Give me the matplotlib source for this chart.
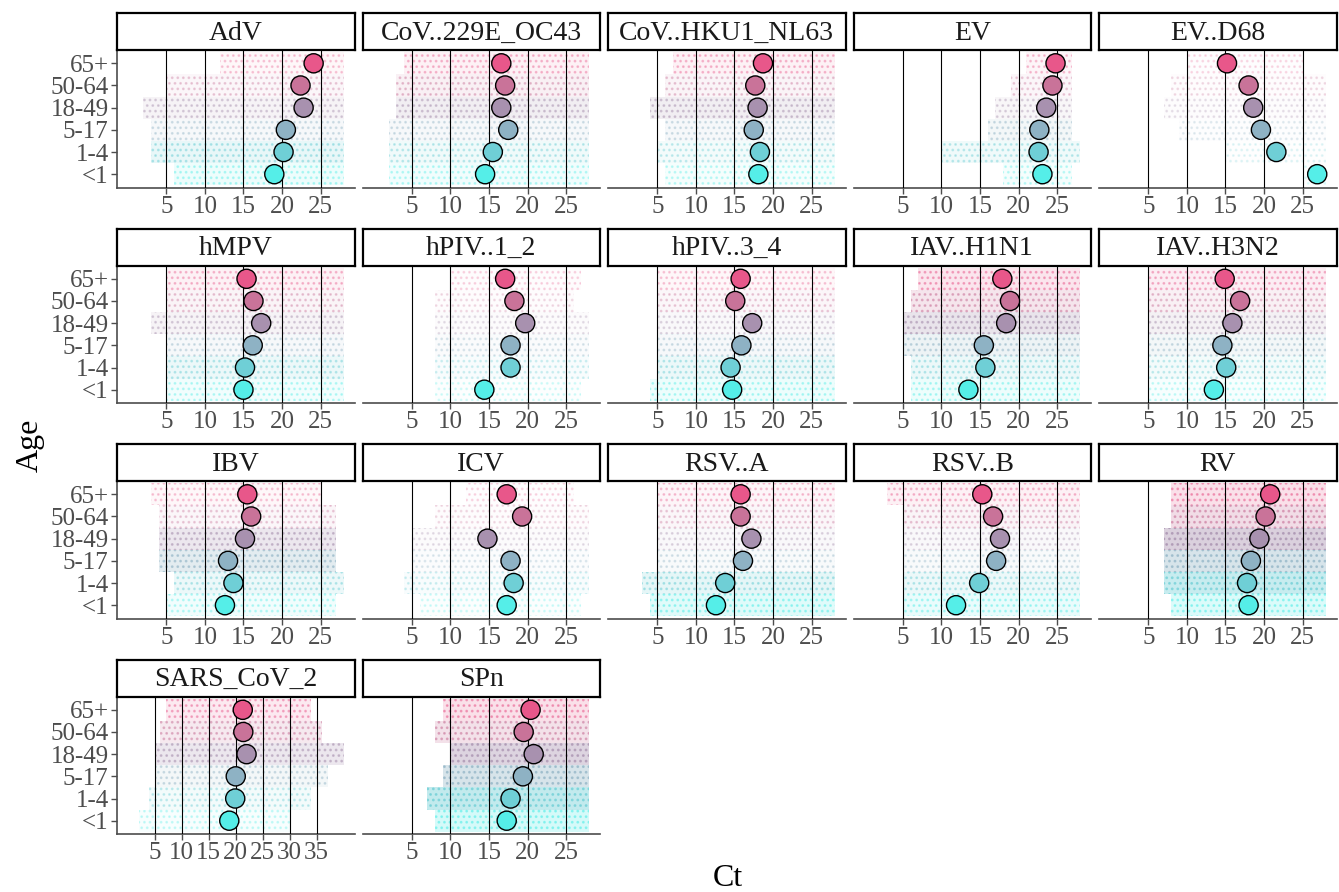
import matplotlib
matplotlib.use("Agg")
import matplotlib.pyplot as plt
import numpy as np

plt.rcParams['font.family'] = ['Liberation Serif', 'DejaVu Serif']
plt.rcParams['hatch.linewidth'] = 1.2

# age groups, bottom to top
ages = ["<1", "1-4", "5-17", "18-49", "50-64", "65+"]
age_colors = ["#55EEE8", "#6FCFD6", "#8EB2C4", "#A891AF", "#C97399", "#E8578A"]

pathogens = ["AdV", "CoV..229E_OC43", "CoV..HKU1_NL63", "EV", "EV..D68",
             "hMPV", "hPIV..1_2", "hPIV..3_4", "IAV..H1N1", "IAV..H3N2",
             "IBV", "ICV", "RSV..A", "RSV..B", "RV",
             "SARS_CoV_2", "SPn"]

# median Ct per age group (<1, 1-4, 5-17, 18-49, 50-64, 65+)
median_ct = {
    "AdV":            [19.0, 20.2, 20.5, 22.8, 22.4, 24.1],
    "CoV..229E_OC43": [14.5, 15.5, 17.5, 16.6, 17.1, 16.6],
    "CoV..HKU1_NL63": [18.1, 18.3, 17.5, 18.0, 17.7, 18.7],
    "EV":             [23.1, 22.6, 22.7, 23.6, 24.4, 24.8],
    "EV..D68":        [26.9, 21.6, 19.6, 18.6, 18.0, 15.2],
    "hMPV":           [15.0, 15.2, 16.2, 17.3, 16.3, 15.4],
    "hPIV..1_2":      [14.4, 17.8, 17.8, 19.7, 18.3, 17.1],
    "hPIV..3_4":      [14.7, 14.5, 15.9, 17.3, 15.1, 15.8],
    "IAV..H1N1":      [13.5, 15.7, 15.5, 18.4, 18.9, 17.9],
    "IAV..H3N2":      [13.5, 15.1, 14.6, 15.9, 16.9, 14.9],
    "IBV":            [12.6, 13.7, 13.0, 15.2, 16.0, 15.5],
    "ICV":            [17.3, 18.2, 17.8, 14.8, 19.3, 17.3],
    "RSV..A":         [12.6, 13.8, 16.1, 17.2, 15.8, 15.8],
    "RSV..B":         [11.9, 14.9, 17.1, 17.6, 16.7, 15.3],
    "RV":             [18.0, 17.8, 18.3, 19.4, 20.2, 20.8],
    "SARS_CoV_2":     [18.8, 19.9, 20.0, 22.0, 21.4, 21.3],
    "SPn":            [17.3, 17.8, 19.4, 20.8, 19.5, 20.4],
}

# approximate spread of the individual Ct values (low, high) per age group
cloud_lo = {
    "AdV":            [6, 3, 3, 2, 5, 12],
    "CoV..229E_OC43": [2, 2, 2, 3, 3, 4],
    "CoV..HKU1_NL63": [6, 5, 6, 4, 6, 7],
    "EV":             [18, 10, 16, 17, 19, 21],
    "EV..D68":        [25, 15, 9, 7, 8, 10],
    "hMPV":           [5, 5, 5, 3, 5, 5],
    "hPIV..1_2":      [8, 8, 8, 8, 8, 10],
    "hPIV..3_4":      [4, 5, 5, 5, 5, 5],
    "IAV..H1N1":      [6, 6, 5, 5, 6, 7],
    "IAV..H3N2":      [5, 5, 5, 5, 5, 5],
    "IBV":            [5, 6, 4, 4, 4, 3],
    "ICV":            [6, 4, 5, 5, 8, 12],
    "RSV..A":         [4, 3, 5, 5, 5, 5],
    "RSV..B":         [5, 5, 5, 5, 5, 3],
    "RV":             [8, 7, 7, 7, 8, 8],
    "SARS_CoV_2":     [2, 4, 5, 5, 6, 7],
    "SPn":            [8, 7, 9, 10, 8, 9],
}
cloud_hi = {
    "AdV":            [28, 28, 28, 28, 28, 28],
    "CoV..229E_OC43": [28, 28, 28, 28, 28, 28],
    "CoV..HKU1_NL63": [28, 28, 28, 28, 28, 28],
    "EV":             [27, 28, 27, 27, 27, 27],
    "EV..D68":        [28, 28, 28, 28, 28, 25],
    "hMPV":           [28, 28, 28, 28, 28, 28],
    "hPIV..1_2":      [27, 28, 28, 28, 26, 27],
    "hPIV..3_4":      [28, 28, 28, 28, 28, 28],
    "IAV..H1N1":      [28, 28, 28, 28, 28, 28],
    "IAV..H3N2":      [28, 28, 28, 28, 28, 28],
    "IBV":            [27, 28, 27, 27, 27, 25],
    "ICV":            [27, 28, 28, 28, 28, 26],
    "RSV..A":         [28, 28, 28, 28, 28, 28],
    "RSV..B":         [28, 28, 28, 28, 28, 28],
    "RV":             [28, 28, 28, 28, 28, 28],
    "SARS_CoV_2":     [30, 34, 37, 40, 36, 34],
    "SPn":            [28, 28, 28, 28, 28, 28],
}
# how crowded the points look (0 = few, 1 = solid band)
cloud_density = {
    "AdV":            [0.35, 0.45, 0.30, 0.35, 0.25, 0.20],
    "CoV..229E_OC43": [0.30, 0.35, 0.30, 0.45, 0.35, 0.30],
    "CoV..HKU1_NL63": [0.25, 0.30, 0.30, 0.45, 0.30, 0.30],
    "EV":             [0.25, 0.35, 0.35, 0.30, 0.25, 0.25],
    "EV..D68":        [0.04, 0.05, 0.10, 0.12, 0.10, 0.06],
    "hMPV":           [0.30, 0.40, 0.30, 0.35, 0.30, 0.30],
    "hPIV..1_2":      [0.10, 0.20, 0.20, 0.15, 0.10, 0.10],
    "hPIV..3_4":      [0.35, 0.40, 0.30, 0.25, 0.25, 0.20],
    "IAV..H1N1":      [0.35, 0.40, 0.45, 0.60, 0.50, 0.45],
    "IAV..H3N2":      [0.20, 0.30, 0.35, 0.40, 0.35, 0.35],
    "IBV":            [0.30, 0.40, 0.60, 0.55, 0.25, 0.20],
    "ICV":            [0.12, 0.20, 0.15, 0.15, 0.10, 0.08],
    "RSV..A":         [0.50, 0.50, 0.25, 0.25, 0.25, 0.25],
    "RSV..B":         [0.40, 0.40, 0.25, 0.25, 0.30, 0.30],
    "RV":             [0.55, 0.80, 0.75, 0.85, 0.60, 0.50],
    "SARS_CoV_2":     [0.20, 0.30, 0.35, 0.55, 0.45, 0.40],
    "SPn":            [0.60, 0.85, 0.75, 0.80, 0.55, 0.50],
}

# x range of the data for each panel (free x scales)
ct_range = {p: (0, 28) for p in pathogens}
ct_range["SARS_CoV_2"] = (0, 40)

W, H = 1339, 892
fig = plt.figure(figsize=(W / 100, H / 100), dpi=100)

ncol = 5
col_left = 117
col_w = 237.5
col_gap = 8
row_top = 13
row_pitch = 215.5
strip_h = 37
panel_h = 137.5
tick_grey = "#4D4D4D"

for k, name in enumerate(pathogens):
    r, c = divmod(k, ncol)
    x0 = col_left + c * (col_w + col_gap)
    y_strip = row_top + r * row_pitch
    y_panel = y_strip + strip_h

    ax = fig.add_axes([x0 / W, 1 - (y_panel + panel_h) / H, col_w / W, panel_h / H])
    sax = fig.add_axes([x0 / W, 1 - y_panel / H, col_w / W, strip_h / H])

    # strip
    sax.set_xticks([])
    sax.set_yticks([])
    sax.set_facecolor("white")
    for s in sax.spines.values():
        s.set_linewidth(1.6)
        s.set_color("black")
    sax.text(0.5, 0.45, name, ha="center", va="center", fontsize=20,
             transform=sax.transAxes, color="#1A1A1A")

    lo_r, hi_r = ct_range[name]
    pad = (hi_r - lo_r) * 0.05
    ax.set_xlim(lo_r - pad, hi_r + pad)
    ax.set_ylim(0.4, 6.6)

    ypos = np.arange(1, len(ages) + 1)
    lows = np.array(cloud_lo[name], dtype=float)
    highs = np.array(cloud_hi[name], dtype=float)
    dens = np.array(cloud_density[name])
    for i in range(len(ages)):
        # faint tint plus a dotted texture standing in for the jittered points
        ax.barh(ypos[i], highs[i] - lows[i], left=lows[i], height=1.0,
                color=age_colors[i], alpha=0.55 * dens[i] ** 1.6,
                linewidth=0, zorder=1)
        ax.barh(ypos[i], highs[i] - lows[i], left=lows[i], height=1.0,
                facecolor="none", edgecolor=age_colors[i], hatch="...",
                alpha=min(1.0, 0.15 + 0.7 * dens[i]), linewidth=0, zorder=1)

    ax.scatter(median_ct[name], ypos, s=190, c=age_colors,
               edgecolors="black", linewidths=1.0, zorder=5)

    ticks = np.arange(5, hi_r, 5)
    ax.set_xticks(ticks)
    ax.set_xticklabels([str(t) for t in ticks])
    ax.grid(axis="x", color="black", linewidth=0.8)
    ax.set_axisbelow(False)
    for gl in ax.get_xgridlines():
        gl.set_zorder(2)

    ax.spines["top"].set_visible(False)
    ax.spines["right"].set_visible(False)
    ax.spines["bottom"].set_color(tick_grey)
    ax.spines["bottom"].set_linewidth(1.2)
    ax.tick_params(axis="x", colors=tick_grey, labelsize=18, length=4,
                   width=1, pad=2)
    if c == 0:
        ax.spines["left"].set_color(tick_grey)
        ax.spines["left"].set_linewidth(1.2)
        ax.set_yticks(ypos)
        ax.set_yticklabels(ages)
        ax.tick_params(axis="y", colors=tick_grey, labelsize=18, length=4,
                       width=1, pad=2)
    else:
        ax.spines["left"].set_visible(False)
        ax.set_yticks([])

fig.text(728 / W, 1 - 878 / H, "Ct", ha="center", va="center", fontsize=23)
fig.text(30 / W, 1 - 445 / H, "Age", ha="center", va="center", fontsize=23,
         rotation=90)

fig.savefig("out.png", dpi=100)
